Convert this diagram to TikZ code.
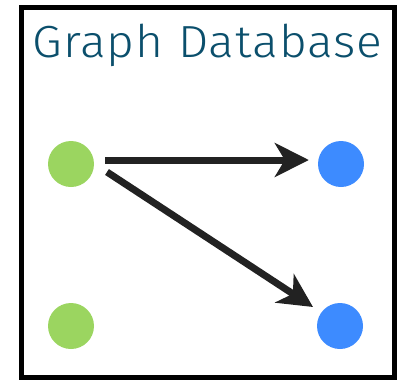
\documentclass[tikz,border=0pt]{standalone}
\usepackage{fontspec}
\setmainfont{Fira Sans Light}
\usetikzlibrary{arrows.meta}
\definecolor{titleteal}{HTML}{0B4F6C}
\definecolor{leafgreen}{HTML}{9BD560}
\definecolor{skyblue}{HTML}{3D8BFF}
\definecolor{inkdark}{HTML}{222222}
\begin{document}
\begin{tikzpicture}[x=1pt,y=-1pt,
  vertexg/.style={circle,fill=leafgreen,minimum size=46pt,inner sep=0pt},
  vertexb/.style={circle,fill=skyblue,minimum size=46pt,inner sep=0pt},
  edge/.style={draw=inkdark,line width=7pt,
    -{Stealth[length=34pt,width=34pt,inset=10pt]}}]
  \useasboundingbox (0,0) rectangle (402,381);
  % outer frame
  \draw[line width=5pt,black] (21.5,7.5) rectangle (394.5,377.5);
  % title
  \node[anchor=base,text=titleteal,xscale=1.065,font=\fontsize{45}{50}\selectfont\addfontfeature{LetterSpace=2},inner sep=0pt] (title) at (207.5,57) {Graph Database};
  % vertices
  \node[vertexg] (g1) at (71,164) {};
  \node[vertexg] (g2) at (71,326) {};
  \node[vertexb] (b1) at (341,164) {};
  \node[vertexb] (b2) at (340,326) {};
  % edges
  \draw[edge,shorten <=11pt,shorten >=9pt] ([yshift=4pt]g1.east) -- ([yshift=4pt]b1.west);
  \draw[edge] ([shift={(36,8)}]g1.center) -- ([shift={(-27,-19)}]b2.center);
\end{tikzpicture}
\end{document}
